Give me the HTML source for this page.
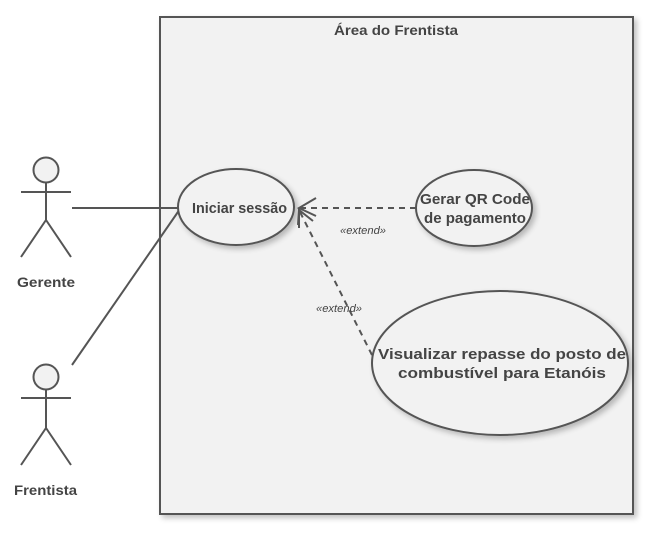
<!DOCTYPE html>
<html><head><meta charset="utf-8"><style>
html,body{margin:0;padding:0;background:#fff;}
svg{display:block;}
text{font-family:"Liberation Sans","DejaVu Sans",sans-serif;fill:#444;}
</style></head><body>
<svg width="653" height="534" viewBox="0 0 653 534" xmlns="http://www.w3.org/2000/svg">
<defs>
<filter id="sh" x="-20%" y="-20%" width="150%" height="150%"><feGaussianBlur in="SourceAlpha" stdDeviation="3"/><feOffset dx="3" dy="3"/><feComponentTransfer><feFuncA type="linear" slope="0.25"/></feComponentTransfer><feMerge><feMergeNode/><feMergeNode in="SourceGraphic"/></feMerge></filter>
</defs>
<rect x="160" y="17" width="473" height="497" fill="#f2f2f2" stroke="#555" stroke-width="2" filter="url(#sh)"/>
<text x="334" y="35" font-size="14" font-weight="bold" textLength="124" lengthAdjust="spacingAndGlyphs">Área do Frentista</text>
<g stroke="#555" stroke-width="2" fill="none">
<line x1="72" y1="208" x2="178" y2="208"/>
<line x1="72" y1="365" x2="180" y2="209"/>
</g>
<ellipse cx="236" cy="207" rx="58" ry="38" fill="#f2f2f2" stroke="#555" stroke-width="2" filter="url(#sh)"/>
<ellipse cx="474" cy="208" rx="58" ry="38" fill="#f2f2f2" stroke="#555" stroke-width="2" filter="url(#sh)"/>
<ellipse cx="500" cy="363" rx="128" ry="72" fill="#f2f2f2" stroke="#555" stroke-width="2" filter="url(#sh)"/>
<text x="192" y="213" font-size="15" font-weight="bold" textLength="95" lengthAdjust="spacingAndGlyphs">Iniciar sessão</text>
<text x="420" y="204" font-size="15" font-weight="bold" textLength="110" lengthAdjust="spacingAndGlyphs">Gerar QR Code</text>
<text x="424" y="223" font-size="15" font-weight="bold" textLength="102" lengthAdjust="spacingAndGlyphs">de pagamento</text>
<text x="378" y="359" font-size="15" font-weight="bold" textLength="248" lengthAdjust="spacingAndGlyphs">Visualizar repasse do posto de</text>
<text x="398" y="378" font-size="15" font-weight="bold" textLength="208" lengthAdjust="spacingAndGlyphs">combustível para Etanóis</text>
<g stroke="#555" stroke-width="2" fill="none">
<line x1="416" y1="208" x2="300" y2="208" stroke-dasharray="6,5"/>
<line x1="372" y1="355" x2="300" y2="212" stroke-dasharray="6,5"/>
<polyline points="316,198 299,208 316,216"/>
<polyline points="298,225 299,210 313,221"/>
<line x1="299" y1="208" x2="299" y2="228"/>
</g>
<text x="340" y="234" font-size="11" font-style="italic" fill="#555" textLength="46" lengthAdjust="spacingAndGlyphs">«extend»</text>
<text x="316" y="312" font-size="11" font-style="italic" fill="#555" textLength="46" lengthAdjust="spacingAndGlyphs">«extend»</text>
<g stroke="#555" stroke-width="2" fill="#f2f2f2">
<circle cx="46" cy="170" r="12.5"/>
<line x1="21" y1="192" x2="71" y2="192"/>
<line x1="46" y1="183" x2="46" y2="220"/>
<polyline points="21,257 46,220 71,257" fill="none"/>
<circle cx="46" cy="377" r="12.5"/>
<line x1="21" y1="398" x2="71" y2="398"/>
<line x1="46" y1="390" x2="46" y2="428"/>
<polyline points="21,465 46,428 71,465" fill="none"/>
</g>
<text x="17" y="287" font-size="14" font-weight="bold" textLength="58" lengthAdjust="spacingAndGlyphs">Gerente</text>
<text x="14" y="495" font-size="14" font-weight="bold" textLength="63" lengthAdjust="spacingAndGlyphs">Frentista</text>
</svg>
</body></html>
